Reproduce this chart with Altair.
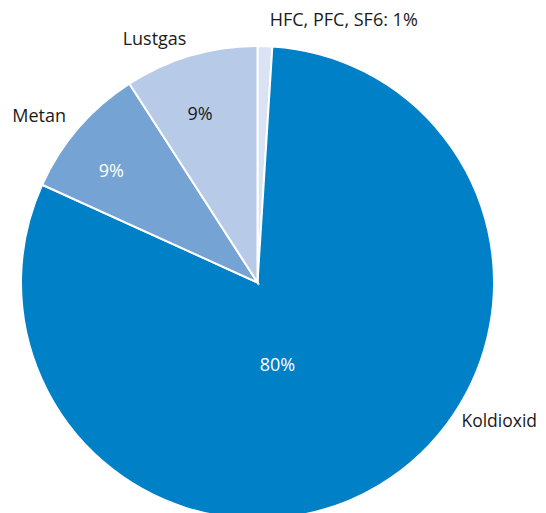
import altair as alt
import pandas as pd

categories = ["HFC, PFC, SF6", "Koldioxid", "Metan", "Lustgas"]
values = [1.0, 80.7, 9.1, 9.1]
pct_labels = ["1%", "80%", "9%", "9%"]
colors = ["#DAE3F3", "#0080C6", "#74A3D4", "#B7CBE8"]

df = pd.DataFrame({
    "cat": categories,
    "value": values,
    "pct": pct_labels,
    "idx": list(range(len(categories))),
})

CX, CY, R = 249.5, 274.5, 236.5
FONT = "Open Sans"

base = alt.Chart(df).encode(
    theta=alt.Theta("value:Q", stack=True),
    order=alt.Order("idx:O"),
    x=alt.value(CX),
    y=alt.value(CY),
)

pie = base.mark_arc(radius=R, stroke="white", strokeWidth=2).encode(
    color=alt.Color("cat:N", scale=alt.Scale(domain=categories, range=colors), legend=None)
)


def label(cat, text_expr, radius, dx, dy, color, size=18):
    return base.transform_calculate(
        lab=f"datum.cat === '{cat}' ? {text_expr} : ''"
    ).mark_text(
        radius=radius, dx=dx, dy=dy, font=FONT, fontSize=size, color=color,
        align="center", baseline="middle"
    ).encode(text="lab:N")


layers = [
    pie,
    label("Koldioxid", "datum.pct", 97, -30, 0, "white"),
    label("Metan", "datum.pct", 180, -10, 7, "white"),
    label("Lustgas", "datum.pct", 175, -8, 0, "#1a1a1a"),
    label("Koldioxid", "datum.cat", 250, 113, -75, "#1a1a1a", 17.5),
    label("Metan", "datum.cat", 270, -14, 11, "#1a1a1a"),
    label("Lustgas", "datum.cat", 255, -31, 2, "#1a1a1a"),
    label("HFC, PFC, SF6", "datum.cat + ': ' + datum.pct", 262, 78, 0, "#1a1a1a"),
]

chart = alt.layer(*layers).properties(
    width=530, height=510,
    autosize=alt.AutoSizeParams(type="none"),
    padding=0,
).configure_view(stroke=None)

chart.save("out.html", embed_options={"renderer": "svg", "actions": False})
